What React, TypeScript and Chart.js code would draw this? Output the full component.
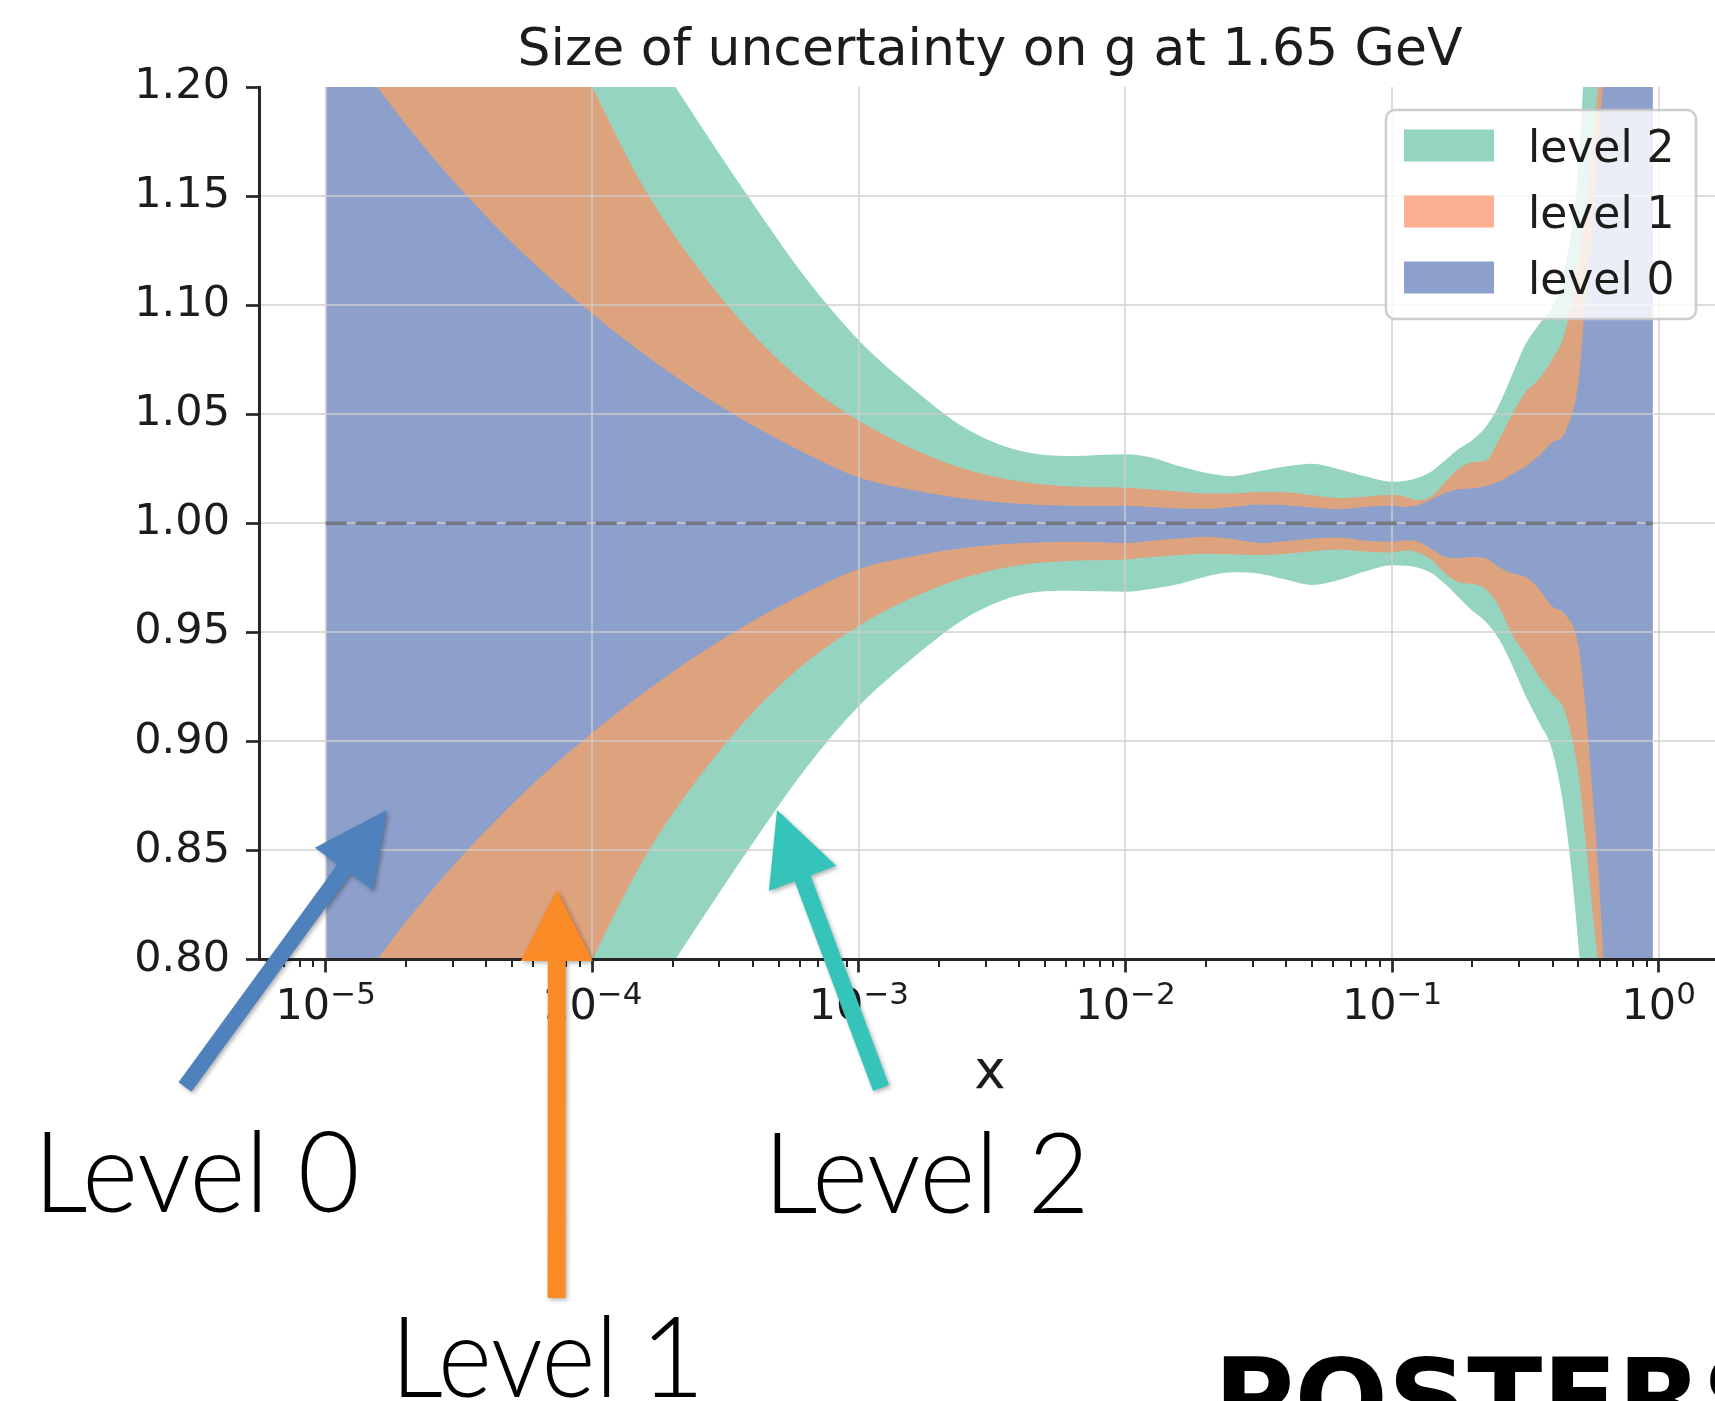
import React, { useEffect, useRef } from "react";
import { Chart, registerables } from "chart.js";

Chart.register(...registerables);

// ---------------- data ----------------
const xValues = [
  1.0e-5, 1.585e-5, 2.512e-5, 3.981e-5, 6.31e-5,
  1.0e-4, 1.585e-4, 2.512e-4, 3.981e-4, 6.31e-4,
  1.0e-3, 1.585e-3, 2.512e-3, 3.981e-3, 6.31e-3,
  1.0e-2, 1.259e-2, 1.585e-2, 1.995e-2, 2.512e-2, 3.162e-2, 3.981e-2, 5.012e-2, 6.31e-2, 7.943e-2,
  0.1, 0.1122, 0.1259, 0.1413, 0.1585, 0.1778, 0.1995, 0.2239, 0.2512, 0.2818, 0.3162, 0.3548,
  0.3981, 0.4467, 0.5012, 0.5309, 0.5623, 0.5957, 0.631, 0.7079, 0.7943, 0.8913, 0.95,
];

const level0Upper = [
  1.235, 1.199, 1.168, 1.141, 1.117,
  1.096, 1.077, 1.06, 1.045, 1.032,
  1.021, 1.0152, 1.0112, 1.0089, 1.008,
  1.008, 1.0075, 1.0068, 1.0066, 1.0075, 1.0086, 1.0082, 1.0072, 1.0064, 1.0076,
  1.008, 1.0075, 1.0085, 1.011, 1.014, 1.0155, 1.016, 1.017, 1.019, 1.0225, 1.026, 1.031,
  1.037, 1.042, 1.066, 1.102, 1.134, 1.175, 1.215, 1.3, 1.4, 1.5, 1.55,
];
const level0Lower = [
  0.765, 0.801, 0.832, 0.859, 0.883,
  0.904, 0.923, 0.94, 0.955, 0.968,
  0.979, 0.9848, 0.9888, 0.9908, 0.9915,
  0.991, 0.992, 0.993, 0.9938, 0.9928, 0.991, 0.9918, 0.993, 0.9935, 0.992,
  0.9915, 0.9922, 0.9915, 0.988, 0.9845, 0.984, 0.9845, 0.984, 0.98, 0.977, 0.9755, 0.97,
  0.962, 0.958, 0.943, 0.916, 0.879, 0.838, 0.785, 0.7, 0.6, 0.5, 0.45,
];
const level1Upper = [
  1.52, 1.445, 1.375, 1.31, 1.252,
  1.2, 1.1525, 1.1165, 1.087, 1.064,
  1.047, 1.0342, 1.0248, 1.0192, 1.0168,
  1.0163, 1.0155, 1.0146, 1.0136, 1.0136, 1.0143, 1.0142, 1.0128, 1.0116, 1.0122,
  1.0129, 1.0122, 1.0105, 1.0125, 1.019, 1.025, 1.028, 1.0285, 1.038, 1.05, 1.06, 1.066,
  1.075, 1.088, 1.12, 1.143, 1.167, 1.205, 1.25, 1.35, 1.45, 1.55, 1.6,
];
const level1Lower = [
  0.48, 0.555, 0.625, 0.69, 0.748,
  0.8, 0.8475, 0.8835, 0.913, 0.936,
  0.953, 0.9658, 0.9752, 0.9808, 0.9828,
  0.9834, 0.9845, 0.9854, 0.986, 0.9858, 0.9854, 0.986, 0.9872, 0.988, 0.987,
  0.9866, 0.9875, 0.9865, 0.983, 0.977, 0.973, 0.9722, 0.97, 0.962, 0.949, 0.94, 0.93,
  0.922, 0.913, 0.884, 0.855, 0.824, 0.796, 0.76, 0.65, 0.55, 0.45, 0.4,
];
const level2Upper = [
  1.56, 1.49, 1.425, 1.365, 1.31,
  1.262, 1.2215, 1.1835, 1.147, 1.1125,
  1.0838, 1.062, 1.0435, 1.0333, 1.0308,
  1.0316, 1.03, 1.0262, 1.0232, 1.0216, 1.0238, 1.026, 1.0273, 1.0248, 1.0215,
  1.019, 1.0195, 1.021, 1.024, 1.029, 1.034, 1.038, 1.044, 1.054, 1.068, 1.082, 1.091,
  1.099, 1.118, 1.165, 1.22, 1.26, 1.3, 1.35, 1.45, 1.55, 1.65, 1.7,
];
const level2Lower = [
  0.44, 0.51, 0.575, 0.635, 0.69,
  0.738, 0.7785, 0.8165, 0.853, 0.8875,
  0.9162, 0.938, 0.9565, 0.967, 0.969,
  0.9686, 0.97, 0.9722, 0.9755, 0.9775, 0.977, 0.9742, 0.9717, 0.974, 0.978,
  0.9808, 0.9805, 0.9795, 0.977, 0.972, 0.966, 0.96, 0.955, 0.947, 0.935, 0.921, 0.909,
  0.896, 0.864, 0.805, 0.76, 0.72, 0.68, 0.64, 0.55, 0.45, 0.35, 0.3,
];

const refLineX = [1e-5, 0.95];
const refLineY = [1, 1];

const xMajorTicks = [1e-5, 1e-4, 1e-3, 1e-2, 1e-1, 1];
const xTickBase = "10";
const xTickExponents = ["\u22125", "\u22124", "\u22123", "\u22122", "\u22121", "0"];
const yTicks = [0.8, 0.85, 0.9, 0.95, 1.0, 1.05, 1.1, 1.15, 1.2];
const legendLabels = ["level 2", "level 1", "level 0"];
const titleText = "Size of uncertainty on g at 1.65 GeV";
const xAxisLabel = "x";
const annotationWord = "Level";
const annotationDigits = ["0", "1", "2"];
const posterText = "POSTERS";

// ---------------- style ----------------
const FONT = '"DejaVu Sans", "Liberation Sans", sans-serif';
const TEXT = "#1c1c1c";
const AXIS = "#262626";
const TEAL = "rgba(102,194,165,0.7)";
const ORANGE = "rgba(252,141,98,0.7)";
const BLUE = "#8da0cb";
const GRID = "rgba(205,205,205,0.7)";
const DASH = "rgba(95,95,100,0.72)";
const X_MIN = 5.623e-6;
const X_MAX = 1.626;
const LIGHT_FONT = '300 112px Lato, "Open Sans", sans-serif';

function drawArrow(
  ctx: CanvasRenderingContext2D,
  tail: [number, number],
  tip: [number, number],
  shaftW: number,
  headLen: number,
  headHalf: number,
  color: string
) {
  const dx = tip[0] - tail[0];
  const dy = tip[1] - tail[1];
  const L = Math.hypot(dx, dy);
  const ux = dx / L, uy = dy / L;
  const nx = -uy, ny = ux;
  const bx = tip[0] - ux * headLen, by = tip[1] - uy * headLen;
  const s = shaftW / 2;
  ctx.save();
  ctx.shadowColor = "rgba(0,0,0,0.3)";
  ctx.shadowBlur = 4;
  ctx.shadowOffsetX = 2;
  ctx.shadowOffsetY = 2;
  ctx.fillStyle = color;
  ctx.beginPath();
  ctx.moveTo(tail[0] + nx * s, tail[1] + ny * s);
  ctx.lineTo(bx + nx * s, by + ny * s);
  ctx.lineTo(bx + nx * headHalf, by + ny * headHalf);
  ctx.lineTo(tip[0], tip[1]);
  ctx.lineTo(bx - nx * headHalf, by - ny * headHalf);
  ctx.lineTo(bx - nx * s, by - ny * s);
  ctx.lineTo(tail[0] - nx * s, tail[1] - ny * s);
  ctx.closePath();
  ctx.fill();
  ctx.restore();
}

function drawFitted(
  ctx: CanvasRenderingContext2D,
  text: string,
  font: string,
  inkLeft: number,
  inkRight: number,
  baseline: number,
  color = "#000"
) {
  ctx.save();
  ctx.font = font;
  ctx.textAlign = "left";
  ctx.textBaseline = "alphabetic";
  const m = ctx.measureText(text);
  const inkW = m.actualBoundingBoxLeft + m.actualBoundingBoxRight;
  const sx = (inkRight - inkLeft) / inkW;
  ctx.translate(inkLeft, baseline);
  ctx.scale(sx, 1);
  ctx.fillStyle = color;
  ctx.fillText(text, m.actualBoundingBoxLeft, 0);
  ctx.restore();
}

const decorPlugin = {
  id: "decor",
  beforeDatasetDraw(chart: any, args: any) {
    if (args.index !== 0) return;
    const { ctx, chartArea: ca, scales } = chart;
    ctx.save();
    ctx.beginPath();
    ctx.rect(ca.left, ca.top, ca.right - ca.left, ca.bottom - ca.top);
    ctx.clip();
    ctx.strokeStyle = GRID;
    ctx.lineWidth = 2;
    for (const v of xMajorTicks) {
      const px = Math.round(scales.x.getPixelForValue(v));
      ctx.beginPath();
      ctx.moveTo(px, ca.top);
      ctx.lineTo(px, ca.bottom);
      ctx.stroke();
    }
    for (const v of yTicks) {
      if (v <= 0.8001 || v >= 1.1999) continue;
      const py = Math.round(scales.y.getPixelForValue(v));
      ctx.beginPath();
      ctx.moveTo(ca.left, py);
      ctx.lineTo(ca.right, py);
      ctx.stroke();
    }
    ctx.restore();
  },
  afterDraw(chart: any) {
    const { ctx, chartArea: ca, scales } = chart;
    const xs = scales.x;
    ctx.save();

    // minor ticks on x
    ctx.strokeStyle = AXIS;
    ctx.lineWidth = 2;
    for (let e = -6; e <= 0; e++) {
      for (let m = 2; m <= 9; m++) {
        const v = m * Math.pow(10, e);
        if (v < X_MIN || v > X_MAX) continue;
        const px = Math.round(xs.getPixelForValue(v));
        ctx.beginPath();
        ctx.moveTo(px, ca.bottom);
        ctx.lineTo(px, ca.bottom + 7.5);
        ctx.stroke();
      }
    }

    // x tick labels 10^n
    ctx.fillStyle = TEXT;
    ctx.textBaseline = "alphabetic";
    ctx.textAlign = "left";
    const baseY = ca.bottom + 59.5;
    xMajorTicks.forEach((v, i) => {
      const cx = xs.getPixelForValue(v);
      ctx.font = `43px ${FONT}`;
      const w1 = ctx.measureText(xTickBase).width;
      ctx.font = `31px ${FONT}`;
      const w2 = ctx.measureText(xTickExponents[i]).width;
      const x0 = cx - (w1 + w2) / 2;
      ctx.font = `43px ${FONT}`;
      ctx.fillText(xTickBase, x0, baseY);
      ctx.font = `31px ${FONT}`;
      ctx.fillText(xTickExponents[i], x0 + w1, baseY - 15);
    });

    // axis label and title
    ctx.textAlign = "center";
    ctx.font = `53px ${FONT}`;
    ctx.fillText(xAxisLabel, 990, 1088);
    ctx.font = `52px ${FONT}`;
    ctx.fillText(titleText, 990, 65);

    // legend
    ctx.beginPath();
    ctx.roundRect(1386, 110, 310, 209, 9);
    ctx.fillStyle = "rgba(255,255,255,0.82)";
    ctx.fill();
    ctx.strokeStyle = "rgba(200,200,200,0.9)";
    ctx.lineWidth = 2.5;
    ctx.stroke();
    const legendColors = [TEAL, ORANGE, BLUE];
    ctx.textAlign = "left";
    ctx.font = `44px ${FONT}`;
    legendLabels.forEach((lab, i) => {
      const top = 129.5 + i * 66;
      ctx.fillStyle = "#fff";
      ctx.fillRect(1404, top, 90, 32);
      ctx.fillStyle = legendColors[i];
      ctx.fillRect(1404, top, 90, 32);
      ctx.fillStyle = TEXT;
      ctx.fillText(lab, 1528, top + 32);
    });

    // annotations
    drawFitted(ctx, `${annotationWord} ${annotationDigits[0]}`, LIGHT_FONT, 44, 356, 1212);
    drawFitted(ctx, annotationWord, LIGHT_FONT, 401, 610, 1397);
    ctx.save();
    ctx.font = LIGHT_FONT;
    ctx.textAlign = "left";
    ctx.fillStyle = "#000";
    const m1 = ctx.measureText(annotationDigits[1]);
    ctx.fillText(annotationDigits[1], 696 - m1.actualBoundingBoxRight, 1397);
    ctx.restore();
    drawFitted(ctx, `${annotationWord} ${annotationDigits[2]}`, LIGHT_FONT, 774, 1083, 1213);

    // cut-off poster heading
    ctx.save();
    ctx.font = `bold 108px ${FONT}`;
    ctx.textAlign = "left";
    const mp = ctx.measureText(posterText.slice(0, 6));
    const sxp = (1700 - 1223) / (mp.actualBoundingBoxLeft + mp.actualBoundingBoxRight);
    ctx.translate(1223, 1436);
    ctx.scale(sxp, 1);
    ctx.fillStyle = "#000";
    ctx.fillText(posterText, mp.actualBoundingBoxLeft, 0);
    ctx.restore();

    // arrows
    drawArrow(ctx, [185, 1087], [387, 810], 16, 73, 36, "#4f81bd");
    drawArrow(ctx, [556.5, 1298], [556.8, 890], 18, 71, 36, "#fb8b26");
    drawArrow(ctx, [881, 1088], [777, 810], 17, 73, 36, "#35c4ba");

    ctx.restore();
  },
};

export default function App() {
  const canvasRef = useRef<HTMLCanvasElement | null>(null);

  useEffect(() => {
    const canvas = canvasRef.current;
    if (!canvas) return;
    const mk = (arr: number[]) => xValues.map((x, i) => ({ x, y: arr[i] }));
    const band = (label: string, arr: number[], fill: any, bg: string) => ({
      label,
      data: mk(arr),
      fill,
      backgroundColor: bg,
      borderColor: "rgba(0,0,0,0)",
      borderWidth: 0,
      pointRadius: 0,
      cubicInterpolationMode: "monotone" as const,
    });
    const chart = new Chart(canvas, {
      type: "line",
      data: {
        datasets: [
          {
            label: "reference",
            data: refLineX.map((x, i) => ({ x, y: refLineY[i] })),
            borderColor: DASH,
            borderWidth: 3.5,
            borderDash: [21, 9],
            fill: false,
            pointRadius: 0,
          },
          band("level 0", level0Upper, "+1", BLUE),
          band("level 0 lower", level0Lower, false, BLUE),
          band("level 1", level1Upper, "+1", ORANGE),
          band("level 1 lower", level1Lower, false, ORANGE),
          band("level 2", level2Upper, "+1", TEAL),
          band("level 2 lower", level2Lower, false, TEAL),
        ] as any,
      },
      options: {
        responsive: false,
        animation: false,
        devicePixelRatio: 1,
        events: [],
        layout: { padding: { top: 87, right: 0, bottom: 0, left: 0 } },
        plugins: {
          legend: { display: false },
          title: { display: false },
          tooltip: { enabled: false },
          filler: { propagate: false },
        },
        scales: {
          x: {
            type: "logarithmic",
            min: X_MIN,
            max: X_MAX,
            bounds: "data",
            afterBuildTicks: (s: any) => {
              s.ticks = xMajorTicks.map((v) => ({ value: v, major: true }));
            },
            afterFit: (s: any) => {
              s.height = 441.5;
            },
            ticks: { display: false },
            grid: {
              display: true,
              drawOnChartArea: false,
              drawTicks: true,
              tickLength: 13,
              tickWidth: 2.7,
              tickColor: AXIS,
              z: 1,
            },
            border: { display: true, color: AXIS, width: 3, z: 1 },
          },
          y: {
            type: "linear",
            min: 0.8,
            max: 1.2,
            afterBuildTicks: (s: any) => {
              s.ticks = yTicks.map((v) => ({ value: v }));
            },
            afterFit: (s: any) => {
              s.width = 259;
            },
            ticks: {
              callback: (v: any) => Number(v).toFixed(2),
              font: { family: FONT, size: 43 },
              color: TEXT,
              padding: 16,
              autoSkip: false,
              z: 1,
            },
            grid: {
              display: true,
              drawOnChartArea: false,
              drawTicks: true,
              tickLength: 13,
              tickWidth: 2.7,
              tickColor: AXIS,
              z: 1,
            },
            border: { display: true, color: AXIS, width: 3, z: 1 },
          },
        } as any,
      },
      plugins: [decorPlugin as any],
    });
    return () => chart.destroy();
  }, []);

  return (
    <div
      style={{
        position: "absolute",
        left: 0,
        top: 0,
        width: 1715,
        height: 1401,
        background: "#fff",
        overflow: "hidden",
      }}
    >
      <canvas
        ref={canvasRef}
        width={1715}
        height={1401}
        style={{ width: 1715, height: 1401, display: "block" }}
      />
    </div>
  );
}
